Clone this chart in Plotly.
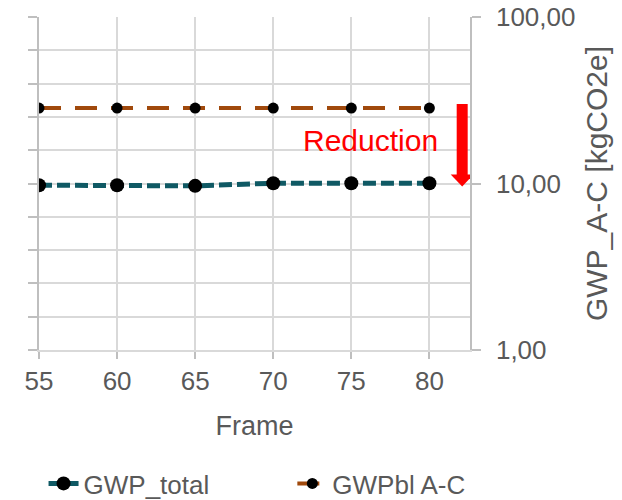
import plotly.graph_objects as go

# ---- data ----
frames = [55, 60, 65, 70, 75, 80]
gwp_total = [9.77, 9.77, 9.68, 10.04, 10.04, 10.04]
gwp_bl = [28.4, 28.4, 28.4, 28.4, 28.4, 28.4]
x_ticks = [55, 60, 65, 70, 75, 80]
y_ticks = [1, 10, 100]
y_ticklabels = ["1,00", "10,00", "100,00"]
series_names = ["GWP_total", "GWPbl A-C"]

FONT = "Liberation Sans, Arial, sans-serif"
GRAY = "#595959"
GRID = "#d9d9d9"
AXIS = "#bfbfbf"

minor_grid = [10 ** (i / 5) for i in range(11)]

fig = go.Figure()
# invisible helper trace so the left (grid/tick) axis is drawn
fig.add_trace(go.Scatter(
    x=frames, y=gwp_bl, yaxis="y2", mode="markers", marker=dict(opacity=0),
    showlegend=False, hoverinfo="skip",
))
fig.add_trace(go.Scatter(
    x=frames, y=gwp_total, name=series_names[0], mode="lines+markers",
    line=dict(color="#0f5964", width=5, dash="13px,5px"),
    marker=dict(color="black", size=14), legend="legend",
))
fig.add_trace(go.Scatter(
    x=frames, y=gwp_bl, name=series_names[1], mode="lines+markers",
    line=dict(color="#a0490c", width=4, dash="22px,14px"),
    marker=dict(color="black", size=11), legend="legend2",
))

legend_common = dict(orientation="h", xref="container", yref="container",
                     y=0.033, xanchor="left", yanchor="middle",
                     font=dict(size=26, color=GRAY, family=FONT),
                     bgcolor="rgba(0,0,0,0)")

fig.update_layout(
    width=622, height=500,
    margin=dict(l=39, r=152, t=17, b=150, autoexpand=False),
    paper_bgcolor="white", plot_bgcolor="white",
    font=dict(family=FONT, color=GRAY, size=26),
    showlegend=True,
    legend=dict(x=0.07, **legend_common),
    legend2=dict(x=0.470, **legend_common),
    xaxis=dict(range=[55, 82.6], tickvals=x_ticks, ticks="outside",
               ticklen=7, tickcolor=AXIS, tickwidth=1.5, automargin=False,
               showgrid=True, gridcolor=GRID, gridwidth=1.5,
               showline=True, linecolor=GRID, linewidth=1.5,
               zeroline=False, tickfont=dict(size=26, color=GRAY),
               title=dict(text="Frame", font=dict(size=27, color=GRAY), standoff=21)),
    yaxis=dict(type="log", range=[0, 2], side="right", automargin=False,
               tickvals=y_ticks, ticktext=y_ticklabels, ticks="outside",
               ticklen=9, tickcolor=AXIS, tickwidth=1.5,
               showgrid=False, showline=True, linecolor=AXIS, linewidth=1.5,
               zeroline=False, ticklabelstandoff=10,
               tickfont=dict(size=26, color=GRAY),
               title=dict(text="GWP_A-C [kgCO2e]", font=dict(size=30, color=GRAY), standoff=12)),
    yaxis2=dict(type="log", range=[0, 2], side="left", overlaying="y", automargin=False,
                tickvals=minor_grid, ticks="outside", ticklen=9,
                tickcolor=AXIS, tickwidth=1.5, showticklabels=False,
                showgrid=True, gridcolor=GRID, gridwidth=1.5,
                showline=True, linecolor=AXIS, linewidth=1.5, zeroline=False),
)

# Reduction arrow (pixel-sized shapes anchored near x=82, y=10)
arrow_x = 82.1
fig.add_shape(type="rect", xref="x", yref="paper", xsizemode="pixel", ysizemode="pixel",
              xanchor=arrow_x, yanchor=0.5, x0=-5.5, x1=5.5, y0=8, y1=79.5,
              fillcolor="#ff0000", line=dict(width=0), layer="above")
fig.add_shape(type="path", xref="x", yref="paper", xsizemode="pixel", ysizemode="pixel",
              xanchor=arrow_x, yanchor=0.5, path="M -11.5 9 L 11.5 9 L 0 -3 Z",
              fillcolor="#ff0000", line=dict(width=0), layer="above")

fig.add_annotation(text="Reduction", x=76.2, y=1.26, xref="x", yref="y",
                   showarrow=False, font=dict(size=30, color="#ff0000", family=FONT))

fig.write_html("out.html")
